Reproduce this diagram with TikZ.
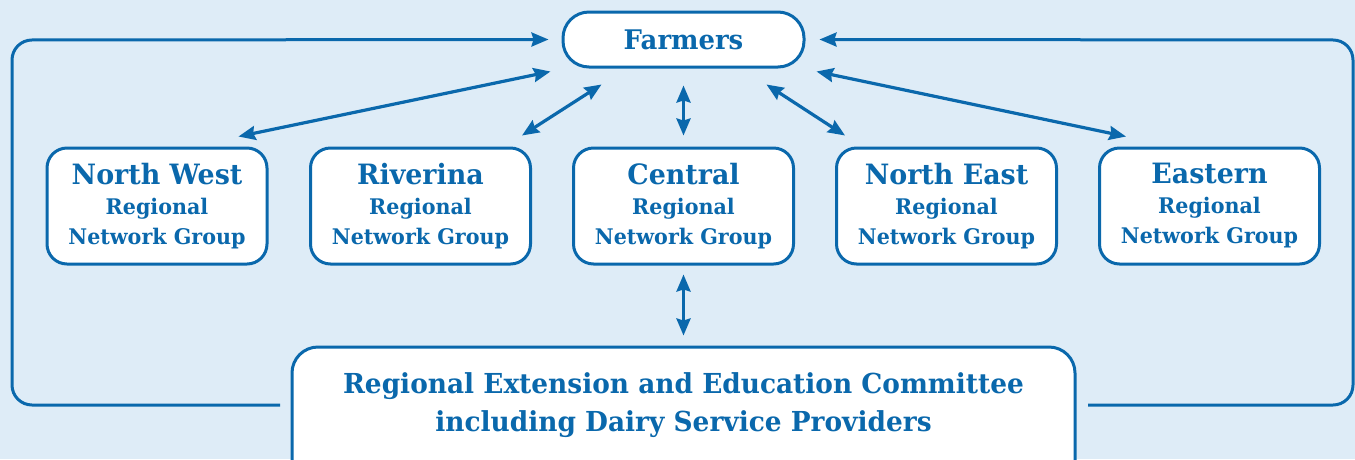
\documentclass[tikz,border=0pt]{standalone}
\usepackage{fontspec}
\setmainfont{DejaVu Serif}[FakeStretch=0.96]
\usetikzlibrary{arrows.meta,calc}
\definecolor{bg}{RGB}{222,236,247}
\definecolor{dblue}{RGB}{10,104,172}
\tikzset{
  box/.style={draw=dblue,line width=3pt,fill=white,rounded corners=20pt,minimum width=220pt,minimum height=116pt,inner sep=0pt,align=center,text=dblue,font=\fontsize{21.5}{30}\selectfont\bfseries},
  tip/.style={},
  conn/.style={draw=dblue,line width=3.2pt,{Stealth[length=17pt,width=14pt,inset=2pt]}-{Stealth[length=17pt,width=14pt,inset=2pt]}},
  loop/.style={draw=dblue,line width=3pt,rounded corners=20pt,-{Stealth[length=17pt,width=14pt,inset=2pt]}},
}
\begin{document}
\begin{tikzpicture}[x=1pt,y=-1pt]
\useasboundingbox (0,0) rectangle (1355,459);
\fill[bg] (0,0) rectangle (1355,459);
\clip (0,0) rectangle (1355,459);
\node[box,minimum width=241pt,minimum height=55pt,rounded corners=26pt,font=\fontsize{27}{30}\selectfont\bfseries] (farm) at (683.5,39.5) {Farmers};
\foreach \n/\x/\t in {nw/157/North West, riv/420.5/Riverina, cen/683.5/Central, ne/946.5/North East, east/1209.5/Eastern}{
  \node[box] (\n) at (\x,206) {{\fontsize{28}{30}\selectfont \t}\\Regional\\Network Group};
}
\node[box,minimum width=783pt,minimum height=140pt,rounded corners=26pt] (bot) at (683.5,417) {};
\node[text=dblue,align=center,font=\fontsize{27.5}{38}\selectfont\bfseries] (bottxt) at (683.5,405) {Regional Extension and Education Committee\\including Dairy Service Providers};
\draw[conn] ($(farm.south west)+(-11,3)$) -- ($(nw.north east)+(-30,-10)$);
\draw[conn] ($(farm.south west)+(40,16)$) -- ($(riv.north east)+(-10,-11)$);
\draw[conn] ($(farm.south)+(0,17)$) -- ($(cen.north)+(0,-11)$);
\draw[conn] ($(farm.south east)+(-39,16)$) -- ($(ne.north west)+(10,-11)$);
\draw[conn] ($(farm.south east)+(11,3)$) -- ($(east.north west)+(28,-10)$);
\draw[conn] ($(cen.south)+(0,9)$) -- ($(bot.north)+(0,-10)$);
\coordinate (la) at (280,405);
\coordinate (ra) at (1088,405);
\draw[loop] (la) -- (12,405) -- (12,40) -- ($(farm.west)+(-13,0)$);
\draw[loop] (ra) -- (1353,405) -- (1353,40) -- ($(farm.east)+(14,0)$);
\end{tikzpicture}
\end{document}
